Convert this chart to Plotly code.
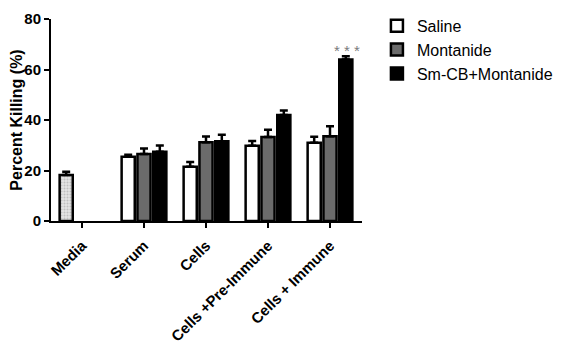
import plotly.graph_objects as go

categories = ["Media", "Serum", "Cells", "Cells +Pre-Immune", "Cells + Immune"]
media_val = [18.2, None, None, None, None]
media_err = [1.3, 0, 0, 0, 0]
saline = [None, 25.4, 21.5, 29.8, 31.0]
saline_err = [0, 0.8, 1.9, 1.9, 2.4]
montanide = [None, 26.5, 31.2, 33.3, 33.6]
montanide_err = [0, 2.2, 2.3, 2.8, 3.9]
smcb = [None, 27.4, 31.6, 42.0, 64.0]
smcb_err = [0, 2.5, 2.6, 1.8, 1.2]
y_ticks = [0, 20, 40, 60, 80]

FONT = "Liberation Sans, Arial, sans-serif"
line = dict(color="black", width=2.5)

def err(vals):
    return dict(type="data", symmetric=False, array=vals, arrayminus=[0]*len(vals),
                color="black", thickness=2.5, width=4)

fig = go.Figure()
fig.add_trace(go.Bar(x=categories, y=media_val, name="Media", showlegend=False,
                     offsetgroup="1",
                     marker=dict(color="white", line=line,
                                 pattern=dict(shape=".", fgcolor="#9a9a9a", bgcolor="#e6e6e6",
                                              size=3, solidity=0.4)),
                     error_y=err(media_err)))
fig.add_trace(go.Bar(x=categories, y=saline, name="Saline", offsetgroup="1",
                     marker=dict(color="white", line=line), error_y=err(saline_err)))
fig.add_trace(go.Bar(x=categories, y=montanide, name="Montanide", offsetgroup="2",
                     marker=dict(color="#6b6b6b", line=line), error_y=err(montanide_err)))
fig.add_trace(go.Bar(x=categories, y=smcb, name="Sm-CB+Montanide", offsetgroup="3",
                     marker=dict(color="black", line=line), error_y=err(smcb_err)))

fig.add_annotation(x=categories[4], y=smcb[4] + smcb_err[4], text="* * *",
                   showarrow=False, xshift=17, yanchor="middle", yshift=6,
                   font=dict(family=FONT, size=15, color="#7a7a7a"))

# page body has an 8px margin, so the figure is drawn 8px smaller and shifted
fig.update_layout(
    width=553, height=336,
    margin=dict(l=43, r=199, t=11, b=122.5, autoexpand=False),
    paper_bgcolor="white", plot_bgcolor="white",
    barmode="group", bargap=0.235, bargroupgap=0.17,
    font=dict(family=FONT, color="black"),
    showlegend=True,
    legend=dict(x=1.048, y=1.05, xanchor="left", yanchor="top",
                font=dict(family=FONT, size=16, color="black"),
                bgcolor="rgba(0,0,0,0)", traceorder="normal", tracegroupgap=0),
    xaxis=dict(showline=True, linecolor="black", linewidth=2, ticks="outside",
               ticklen=5, tickwidth=2, tickcolor="black", tickangle=-45,
               ticklabelstandoff=3, automargin=False, ticklabeloverflow="allow",
               tickfont=dict(family=FONT, size=15, color="black", weight="bold"),
               showgrid=False, zeroline=False),
    yaxis=dict(range=[0, 80], tickvals=y_ticks, showline=True, linecolor="black",
               linewidth=2, ticks="outside", ticklen=5, tickwidth=2, tickcolor="black",
               automargin=False, ticklabeloverflow="allow",
               tickfont=dict(family=FONT, size=15, color="black", weight="bold"),
               title=dict(text="Percent Killing (%)", standoff=3,
                          font=dict(family=FONT, size=16, color="black", weight="bold")),
               showgrid=False, zeroline=False),
)

fig.write_html("out.html")
